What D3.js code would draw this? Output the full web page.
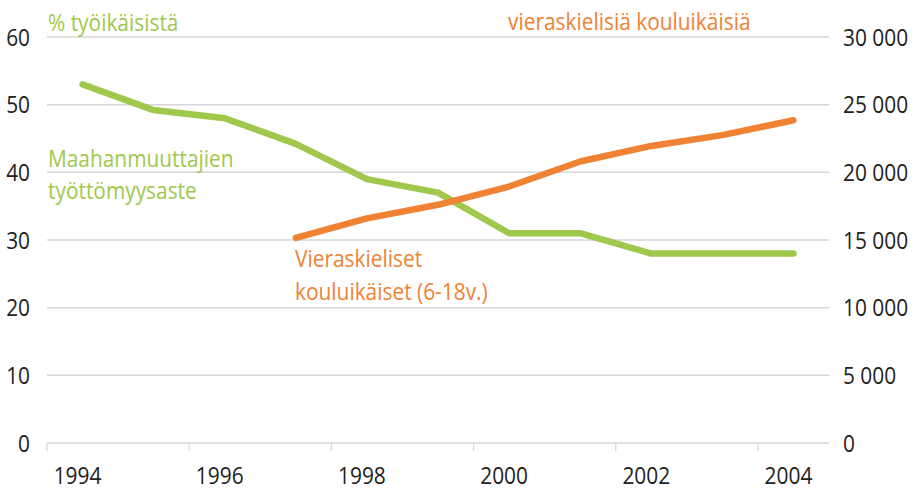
<!DOCTYPE html>
<html>
<head>
<meta charset="utf-8">
<script src="https://cdn.jsdelivr.net/npm/d3@7"></script>
<style>
	body { margin: 0; background: #fff; }
	svg text { font-family: "Open Sans", sans-serif; font-size: 24px; }
</style>
</head>
<body>
<div id="chart"></div>
<script>
// years on the x axis
let years = [1994, 1995, 1996, 1997, 1998, 1999, 2000, 2001, 2002, 2003, 2004];
// Maahanmuuttajien työttömyysaste, % työikäisistä
let unemployment = [53, 49.2, 48, 44.2, 39, 37, 31, 31, 28, 28, 28];
// vieraskieliset kouluikäiset, from 1997
let pupilYears = [1997, 1998, 1999, 2000, 2001, 2002, 2003, 2004];
let pupils = [15150, 16600, 17600, 18950, 20800, 21950, 22750, 23850];
let leftTicks = [0, 10, 20, 30, 40, 50, 60];
let rightTicks = [0, 5000, 10000, 15000, 20000, 25000, 30000];
let yearLabels = [1994, 1996, 1998, 2000, 2002, 2004];

let green = "#a0c84c";
let orange = "#f08233";

let width = 915, height = 490;
let plotLeft = 47, plotRight = 829, plotTop = 37, plotBottom = 443;
// the original uses a condensed face; squeeze Open Sans a little
let squeeze = 0.87;

let svg = d3.select("#chart").append("svg")
	.attr("width", width)
	.attr("height", height);

let x = d3.scaleBand().domain(years).range([plotLeft, plotRight]);
let yL = d3.scaleLinear().domain([0, 60]).range([plotBottom, plotTop]);
let yR = d3.scaleLinear().domain([0, 30000]).range([plotBottom, plotTop]);

let place = (px, py) => `translate(${px},${py}) scale(${squeeze},1)`;

// gridlines
svg.append("g").selectAll("line")
	.data(leftTicks.filter(d => d > 0))
	.join("line")
	.attr("x1", plotLeft).attr("x2", plotRight)
	.attr("y1", d => yL(d)).attr("y2", d => yL(d))
	.attr("stroke", "#d5d5db")
	.attr("stroke-width", 1.5);

// x axis: ticks at the band edges every 2 years, labels near band centres
let xAxis = svg.append("g");
xAxis.append("line")
	.attr("x1", plotLeft).attr("x2", plotRight)
	.attr("y1", plotBottom).attr("y2", plotBottom)
	.attr("stroke", "#d5d5db")
	.attr("stroke-width", 1.5);
xAxis.selectAll(".tick")
	.data(yearLabels)
	.join("line")
	.attr("x1", d => x(d)).attr("x2", d => x(d))
	.attr("y1", plotBottom).attr("y2", plotBottom + 8)
	.attr("stroke", "#d5d5db")
	.attr("stroke-width", 1.2);
xAxis.selectAll("text")
	.data(yearLabels)
	.join("text")
	.attr("transform", d => place(x(d) + x.bandwidth() / 2 - 5, 484))
	.attr("text-anchor", "middle")
	.attr("fill", "#222")
	.text(d => d);

// left axis labels
svg.append("g").selectAll("text")
	.data(leftTicks)
	.join("text")
	.attr("transform", d => place(30, yL(d)))
	.attr("dy", "0.36em")
	.attr("text-anchor", "end")
	.attr("fill", "#222")
	.text(d => d);

// right axis labels
let fmt = d => d3.format(",")(d).replace(/,/g, " ");
svg.append("g").selectAll("text")
	.data(rightTicks)
	.join("text")
	.attr("transform", d => place(843, yR(d)))
	.attr("dy", "0.36em")
	.attr("fill", "#222")
	.text(fmt);

// lines
let greenLine = d3.line()
	.x((d, i) => x(years[i]) + x.bandwidth() / 2)
	.y(d => yL(d));
svg.append("path")
	.datum(unemployment)
	.attr("d", greenLine)
	.attr("fill", "none")
	.attr("stroke", green)
	.attr("stroke-width", 6.5)
	.attr("stroke-linecap", "round")
	.attr("stroke-linejoin", "round");

let orangeLine = d3.line()
	.x((d, i) => x(pupilYears[i]) + x.bandwidth() / 2)
	.y(d => yR(d));
svg.append("path")
	.datum(pupils)
	.attr("d", orangeLine)
	.attr("fill", "none")
	.attr("stroke", orange)
	.attr("stroke-width", 6.5)
	.attr("stroke-linecap", "round")
	.attr("stroke-linejoin", "round");

// texts
function label(txt, px, py, color) {
	svg.append("text")
		.attr("transform", place(px, py))
		.attr("fill", color)
		.text(txt);
}
label("% työikäisistä", 48, 31, green);
label("vieraskielisiä kouluikäisiä", 508, 30, orange);
label("Maahanmuuttajien", 48, 167, green);
label("työttömyysaste", 48, 199, green);
label("Vieraskieliset", 295, 267, orange);
label("kouluikäiset (6-18v.)", 295, 300, orange);
</script>
</body>
</html>
